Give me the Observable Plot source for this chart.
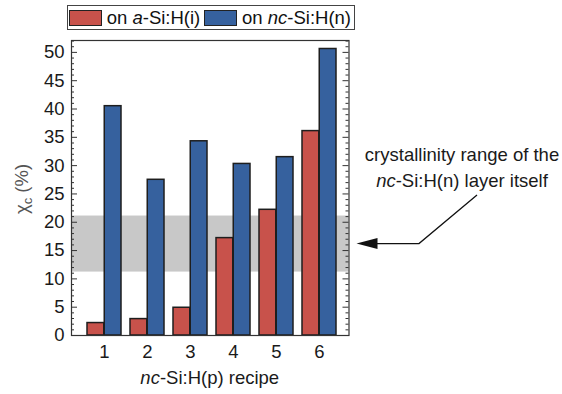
<!DOCTYPE html>
<html><head><meta charset="utf-8">
<script src="https://cdn.jsdelivr.net/npm/d3@7"></script>
<script src="https://cdn.jsdelivr.net/npm/@observablehq/plot@0.6"></script>
<style>
body{margin:0;background:#fff;font-family:"Liberation Sans",Arial,sans-serif;}
#wrap{position:relative;width:562px;height:394px;}
#legend{position:absolute;left:67px;top:5px;width:286px;height:23px;border:1.5px solid #444;display:flex;align-items:center;font-size:18.5px;color:#111;background:#fff;z-index:2;}
#legend .sw{width:31px;height:14px;border:1px solid #222;margin-left:1px;margin-right:5px;}
#legend .lab{margin-right:3px;white-space:nowrap;}
</style></head>
<body><div id="wrap"><div id="legend"></div></div>
<script>
const recipes = ["1","2","3","4","5","6"];
const onASi   = [2.2, 2.9, 4.9, 17.2, 22.2, 36.1];
const onNcSi  = [40.5, 27.5, 34.3, 30.3, 31.5, 50.6];
const seriesNames = ["on <i>a</i>-Si:H(i)", "on <i>nc</i>-Si:H(n)"];
const seriesColors = ["#c8524b", "#36619e"];
const yMajor = [0,5,10,15,20,25,30,35,40,45,50];
const yMinor = d3.range(0, 53).filter(v => v % 5 !== 0);
const crystRange = [11.2, 21.1];

const rows = recipes.map((r, i) => ({recipe: r, a: onASi[i], n: onNcSi[i]}));

const W = 562, H = 394, ML = 71, MR = 213.5, MT = 40, MB = 59;
const FW = W - ML - MR;
const half = 17.25;
const stroke = "#1e1e1e";

const plot = Plot.plot({
  width: W, height: H,
  marginLeft: ML, marginRight: MR, marginTop: MT, marginBottom: MB,
  style: {fontFamily: '"Liberation Sans", Arial, sans-serif', fontSize: "18.5px", color: "#1a1a1a", background: "transparent"},
  x: {domain: recipes, paddingInner: 0.2025, paddingOuter: 0.309, align: 0.55, label: null},
  y: {domain: [0, 52.1], label: null},
  marks: [
    Plot.rect([crystRange], {y1: d => d[0], y2: d => d[1], fill: "#c8c8c8"}),
    Plot.barY(rows, {x: "recipe", y: "a", fill: seriesColors[0], stroke, strokeWidth: 1.5, insetRight: half}),
    Plot.barY(rows, {x: "recipe", y: "n", fill: seriesColors[1], stroke, strokeWidth: 1.5, insetLeft: half}),
    Plot.tickY(yMajor, {y: d => d, insetRight: FW - 6, stroke: "#333"}),
    Plot.tickY(yMinor, {y: d => d, insetRight: FW - 3, stroke: "#333"}),
    Plot.tickY(yMajor, {y: d => d, insetLeft: FW - 6, stroke: "#333"}),
    Plot.tickY(yMinor, {y: d => d, insetLeft: FW - 3, stroke: "#333"}),
    Plot.frame({stroke: "#333", strokeWidth: 1.2}),
    Plot.axisX({tickSize: 0, tickPadding: 9, label: null}),
    Plot.axisY({ticks: yMajor, tickSize: 0, tickPadding: 7, label: null})
  ]
});
document.getElementById("wrap").appendChild(plot);

// legend
const leg = d3.select("#legend");
seriesNames.forEach((name, i) => {
  leg.append("div").attr("class", "sw").style("background", seriesColors[i]);
  leg.append("div").attr("class", "lab").html(name);
});

// axis titles and annotation
const svg = d3.select(plot);
const ys = plot.scale("y");
const font = '"Liberation Sans", Arial, sans-serif';
const fs = "18.5px";
const yt = svg.append("text").attr("transform", "translate(28,189) rotate(-90)")
  .attr("text-anchor", "middle").attr("fill", "#555").style("font-size", fs).style("font-family", font);
yt.append("tspan").text("χ");
yt.append("tspan").attr("font-size", "13px").attr("dy", "4").text("c");
yt.append("tspan").attr("dy", "-4").text(" (%)");

const xt = svg.append("text").attr("x", ML + FW / 2).attr("y", 384).attr("text-anchor", "middle")
  .attr("fill", "#1a1a1a").style("font-size", fs).style("font-family", font);
xt.append("tspan").attr("font-style", "italic").text("nc");
xt.append("tspan").text("-Si:H(p) recipe");

svg.append("text").attr("x", 462).attr("y", 161).attr("text-anchor", "middle")
  .attr("fill", "#1a1a1a").style("font-size", fs).style("font-family", font).text("crystallinity range of the");
const a2 = svg.append("text").attr("x", 462).attr("y", 187).attr("text-anchor", "middle")
  .attr("fill", "#1a1a1a").style("font-size", fs).style("font-family", font);
a2.append("tspan").attr("font-style", "italic").text("nc");
a2.append("tspan").text("-Si:H(n) layer itself");

const ay = ys.apply((crystRange[0] + crystRange[1]) / 2);
const tipX = W - MR + 8;
svg.append("path").attr("d", `M477,195L419,${ay}L${tipX + 18},${ay}`).attr("fill", "none").attr("stroke", "#111").attr("stroke-width", 1.3);
svg.append("path").attr("d", `M${tipX},${ay}L${tipX + 21},${ay - 5.5}L${tipX + 21},${ay + 5.5}Z`).attr("fill", "#111");
</script>
</body></html>
